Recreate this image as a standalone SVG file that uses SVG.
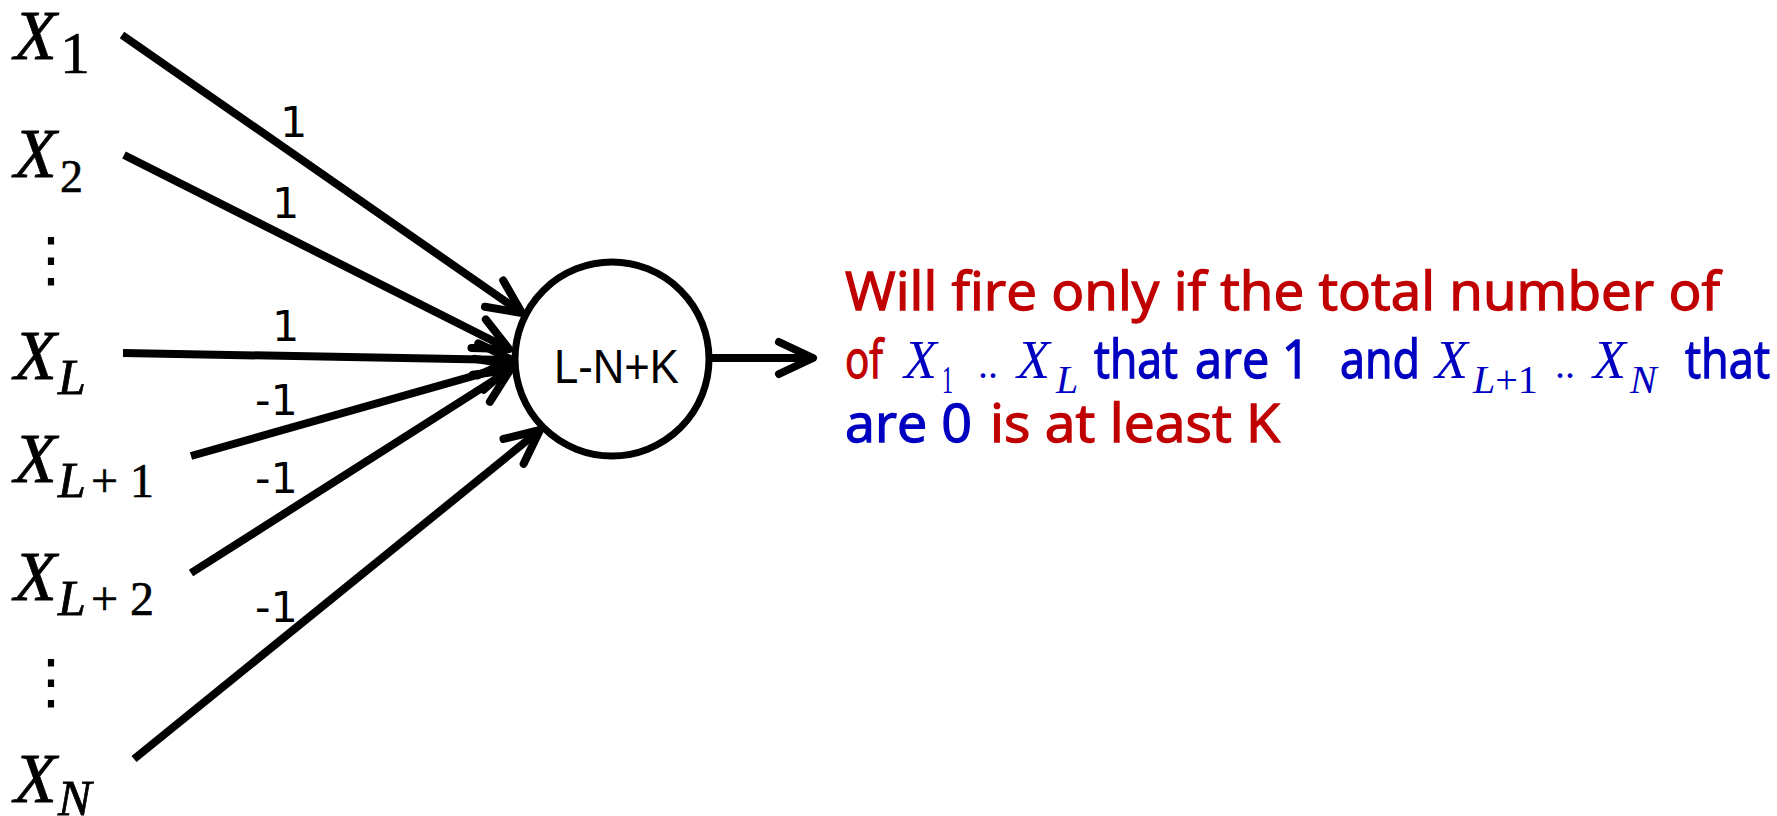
<svg xmlns="http://www.w3.org/2000/svg" width="1777" height="816" viewBox="0 0 1777 816">
<style>
.var{font-family:"Liberation Serif",serif;font-style:italic;fill:#000;stroke:#000;stroke-width:0.8}
.num{font-family:"Liberation Serif",serif;font-style:normal;fill:#000;stroke:#000;stroke-width:0.6}
.w{font-family:"DejaVu Sans",sans-serif;font-size:43px;fill:#000}
.dots{font-family:"DejaVu Sans",sans-serif;font-size:60px;fill:#000}
.edge{stroke:#000;stroke-width:8;fill:none;marker-end:url(#arr)}
.t{font-family:"Comic Sans MS","Open Sans",sans-serif;font-size:53px;stroke-width:1.3}
.red{fill:#C00000;stroke:#C00000}
.blue{fill:#0000C0;stroke:#0000C0}
.mv{font-family:"Liberation Serif",serif;font-style:italic;font-size:54px;fill:#0000C0}
.ms{font-family:"Liberation Serif",serif;font-size:40px;fill:#0000C0}
</style>
<defs>
<marker id="arr" markerUnits="userSpaceOnUse" markerWidth="80" markerHeight="80" viewBox="-50 -40 80 80" refX="0" refY="0" orient="auto" overflow="visible">
<path d="M-34,-16 L0,0 L-34,16" fill="none" stroke="#000" stroke-width="8" stroke-linecap="round" stroke-linejoin="round"/>
</marker>
</defs>
<rect width="1777" height="816" fill="#fff"/>

<g id="connectors">
<line class="edge" x1="122" y1="35" x2="522" y2="313"/>
<line class="edge" x1="124" y1="155" x2="509" y2="349"/>
<line class="edge" x1="123" y1="353" x2="512" y2="360"/>
<line class="edge" x1="191" y1="456" x2="512" y2="365"/>
<line class="edge" x1="191" y1="573" x2="510" y2="370"/>
<line class="edge" x1="134" y1="759" x2="540" y2="430"/>
<line class="edge" x1="712" y1="358" x2="813" y2="358"/>
<text class="w" x="280" y="137">1</text>
<text class="w" x="272" y="218">1</text>
<text class="w" x="272" y="341">1</text>
<text class="w" x="255" y="415">-1</text>
<text class="w" x="255" y="493">-1</text>
<text class="w" x="255" y="622">-1</text>
</g>

<g id="x1"><text class="var" x="14" y="59" font-size="70">X</text><text class="num" x="60" y="73" font-size="60">1</text></g>
<g id="x2"><text class="var" x="14" y="177" font-size="70">X</text><text class="num" x="60" y="192" font-size="46">2</text></g>
<g id="dots1"><text class="dots" x="51" y="280" text-anchor="middle">⋮</text></g>
<g id="xL"><text class="var" x="14" y="379" font-size="70">X</text><text class="var" x="58" y="394" font-size="50">L</text></g>
<g id="xL1"><text class="var" x="14" y="482" font-size="70">X</text><text class="var" x="58" y="497" font-size="50">L</text><text class="num" x="91" y="497" font-size="48">+</text><text class="num" x="130" y="497" font-size="48">1</text></g>
<g id="xL2"><text class="var" x="14" y="600" font-size="70">X</text><text class="var" x="58" y="615" font-size="50">L</text><text class="num" x="91" y="615" font-size="48">+</text><text class="num" x="130" y="615" font-size="48">2</text></g>
<g id="dots2"><text class="dots" x="51" y="702" text-anchor="middle">⋮</text></g>
<g id="xN"><text class="var" x="14" y="802" font-size="70">X</text><text class="var" x="58" y="815" font-size="50">N</text></g>

<g id="neuron">
<circle cx="612" cy="359" r="97" fill="#fff" stroke="#000" stroke-width="7"/>
<text x="554" y="383" font-family="Liberation Sans, sans-serif" font-size="49" textLength="125" lengthAdjust="spacingAndGlyphs">L-N+K</text>
</g>

<g id="caption">
<text class="t red" x="845" y="310" textLength="875" lengthAdjust="spacingAndGlyphs">Will fire only if the total number of</text>
<text class="t red" x="845" y="378" textLength="38" lengthAdjust="spacingAndGlyphs">of</text>
<text class="mv" x="904" y="378">X</text><text class="ms" x="942" y="393" textLength="11" lengthAdjust="spacingAndGlyphs">1</text>
<text class="ms" x="978" y="378" font-size="54">..</text>
<text class="mv" x="1017" y="378">X</text><text class="ms" x="1056" y="393" font-style="italic">L</text>
<text class="t blue" x="1094" y="378" textLength="84" lengthAdjust="spacingAndGlyphs">that</text>
<text class="t blue" x="1195" y="378" textLength="115" lengthAdjust="spacingAndGlyphs">are 1</text>
<text class="t blue" x="1340" y="378" textLength="80" lengthAdjust="spacingAndGlyphs">and</text>
<text class="mv" x="1435" y="378">X</text><text class="ms" x="1473" y="393"><tspan font-style="italic">L</tspan>+1</text>
<text class="ms" x="1555" y="378" font-size="54">..</text>
<text class="mv" x="1593" y="378">X</text><text class="ms" x="1630" y="393" font-style="italic">N</text>
<text class="t blue" x="1685" y="378" textLength="85" lengthAdjust="spacingAndGlyphs">that</text>
<text class="t blue" x="845" y="442" textLength="127" lengthAdjust="spacingAndGlyphs">are 0</text>
<text class="t red" x="990" y="442" textLength="290" lengthAdjust="spacingAndGlyphs">is at least K</text>
</g>
</svg>
